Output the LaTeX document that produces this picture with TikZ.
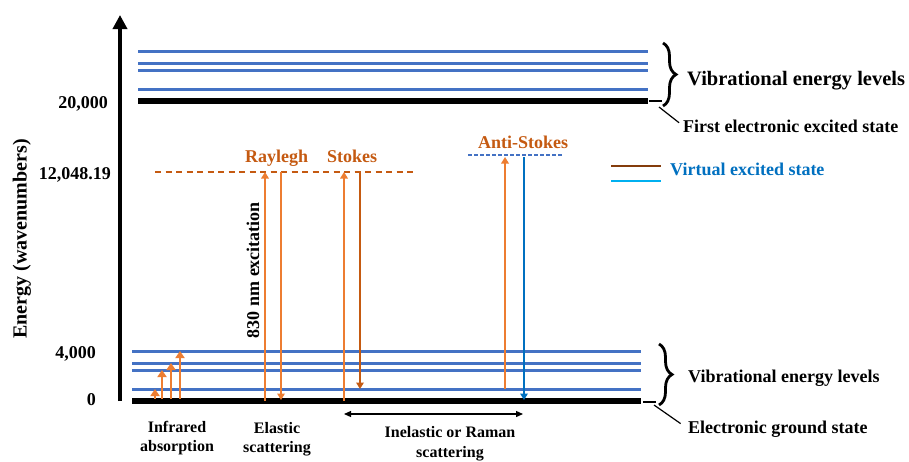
\documentclass[tikz,border=0pt]{standalone}
\usepackage{fontspec}
\setmainfont{Liberation Serif}
\usetikzlibrary{positioning, arrows.meta, calc, decorations.pathreplacing}

\definecolor{vibblue}{HTML}{4472C4}
\definecolor{lightorange}{HTML}{ED7D31}
\definecolor{darkorange}{HTML}{C55A11}
\definecolor{brownline}{HTML}{843C0C}
\definecolor{skyline}{HTML}{00B0F0}
\definecolor{deepblue}{HTML}{0070C0}

\begin{document}
\begin{tikzpicture}[x=1pt, y=-1pt,
	vib/.style={draw=vibblue, line width=3pt},
	elec/.style={draw=black, line width=6pt},
	photon/.style={draw=lightorange, line width=2.5pt, -{Triangle[width=7.5pt, length=6.5pt]}},
	lbl/.style={inner sep=0pt, font=\bfseries\fontsize{18}{20}\selectfont},
	vbrace/.style={decorate, decoration={brace, amplitude=13pt}, line width=2.8pt},
	leader/.style={line width=1.2pt}
]
	\fill[white] (0,0) rectangle (909,461);
	\useasboundingbox (0,0) rectangle (909,461);
	% ---- energy axis ----
	\draw[line width=4pt, -{Triangle[width=14pt, length=14pt]}] (120,401) -- (120,15);
	\node[lbl, font=\bfseries\fontsize{20}{22}\selectfont, rotate=90] (energy) at (22,239) {Energy (wavenumbers)};
	\node[lbl, anchor=base east] (e20000) at (108,108) {20,000};
	\node[lbl, anchor=base east] (evirt) at (111,179) {12,048.19};
	\node[lbl, anchor=base east] (e4000) at (96,358) {4,000};
	\node[lbl, anchor=base east] (e0) at (96,405) {0};
	% ---- electronic states and vibrational levels ----
	\foreach \y in {51,63,70,89}{
		\draw[vib] (138,\y) -- (648,\y);
	}
	\draw[elec] (138,101) -- (648,101);
	\foreach \y in {351,363,370,389}{
		\draw[vib] (132,\y) -- (641,\y);
	}
	\draw[elec] (132,401) -- (641,401);
	% ---- virtual states ----
	\draw[darkorange, line width=1.8pt, dash pattern=on 6pt off 4.5pt] (155,172) -- (415,172);
	\draw[vibblue, line width=1.5pt, dash pattern=on 4pt off 2pt] (468,155) -- (563,155);
	\node[lbl, darkorange, anchor=base west] (rayleigh) at (245,162) {Raylegh};
	\node[lbl, darkorange, anchor=base west] (stokes) at (327,162) {Stokes};
	\node[lbl, darkorange, anchor=base west] (antistokes) at (478,148) {Anti-Stokes};
	% ---- infrared absorption ----
	\foreach \x/\t [count=\i] in {155/389, 162/370, 171/363, 180/351}{
		\coordinate (ir\i-a) at (\x,399);
		\coordinate (ir\i-b) at (\x,\t);
		\draw[photon, line width=2.8pt, -{Triangle[width=9pt, length=7pt]}] (ir\i-a) -- (ir\i-b);
	}
	% ---- scattering ----
	\coordinate (ray-a) at (265,401);  \coordinate (ray-b) at (265,172);
	\coordinate (ray-c) at (281,172);  \coordinate (ray-d) at (281,400);
	\coordinate (sto-a) at (344,401);  \coordinate (sto-b) at (344,172);
	\coordinate (sto-c) at (360,172);  \coordinate (sto-d) at (360,389);
	\coordinate (ast-a) at (505,389);  \coordinate (ast-b) at (505,157);
	\coordinate (ast-c) at (524,157);  \coordinate (ast-d) at (524,400);
	\draw[photon] (ray-a) -- (ray-b);
	\draw[photon] (ray-c) -- (ray-d);
	\draw[photon] (sto-a) -- (sto-b);
	\draw[photon, draw=darkorange] (sto-c) -- (sto-d);
	\draw[photon] (ast-a) -- (ast-b);
	\draw[photon, draw=deepblue] (ast-c) -- (ast-d);
	\node[lbl, rotate=90] (excitation) at (253,270) {830 nm excitation};
	% ---- bottom captions ----
	\coordinate (inel-a) at (344,414);
	\coordinate (inel-b) at (523,414);
	\draw[line width=1.2pt, {Triangle[width=6pt, length=7pt]}-{Triangle[width=6pt, length=7pt]}] (inel-a) -- (inel-b);
	\node[lbl, font=\bfseries\fontsize{16}{19}\selectfont, align=center, anchor=north] (infrared) at (177,421) {Infrared\\absorption};
	\node[lbl, font=\bfseries\fontsize{16}{19}\selectfont, align=center, anchor=north] (elastic) at (277,422) {Elastic\\scattering};
	\node[lbl, font=\bfseries\fontsize{16}{20}\selectfont, align=center, anchor=north] (inelastic) at (450,426) {Inelastic or Raman\\scattering};
	% ---- right-hand labels ----
	\draw[vbrace] (663,43) -- (663,106);
	\node[lbl, font=\bfseries\fontsize{20.5}{22}\selectfont, anchor=base west] (vibup) at (687,85) {Vibrational energy levels};
	\coordinate (exc-tick) at (649,101);
	\coordinate (exc-lead) at (659,107);
	\draw[leader, line width=1.8pt] (exc-tick) -- ++(13,0);
	\node[lbl, anchor=base west] (fes) at (683,132) {First electronic excited state};
	\draw[leader, shorten >=5pt] (exc-lead) -- (fes.west);
	\draw[vbrace] (659,344) -- (659,405);
	\node[lbl, anchor=base west] (vibdown) at (688,382) {Vibrational energy levels};
	\coordinate (gs-tick) at (643,402);
	\coordinate (gs-lead) at (654,405);
	\draw[leader, line width=1.8pt] (gs-tick) -- ++(13,0);
	\node[lbl, anchor=base west] (egs) at (688,433) {Electronic ground state};
	\draw[leader, shorten >=9pt] (gs-lead) -- (egs.west);
	% ---- legend ----
	\coordinate (leg1-a) at (611,166);  \coordinate (leg1-b) at (661,166);
	\coordinate (leg2-a) at (611,181);  \coordinate (leg2-b) at (661,181);
	\draw[brownline, line width=2pt] (leg1-a) -- (leg1-b);
	\draw[skyline, line width=2pt] (leg2-a) -- (leg2-b);
	\node[lbl, deepblue, anchor=base west] (legend) at (670,175) {Virtual excited state};
\end{tikzpicture}
\end{document}
